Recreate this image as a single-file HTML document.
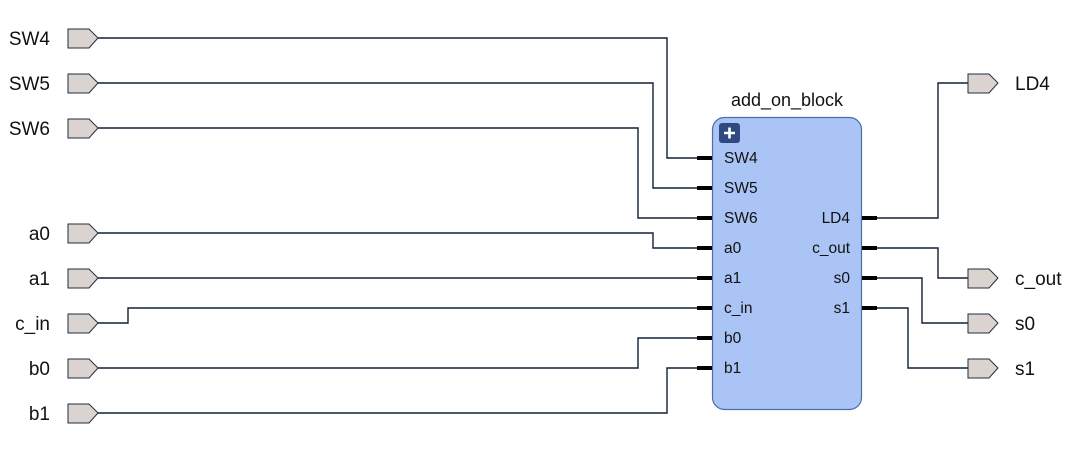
<!DOCTYPE html>
<html><head><meta charset="utf-8"><style>
html,body{margin:0;padding:0;background:#fff;}
svg{display:block;}
text{font-family:"Liberation Sans",sans-serif;fill:#111;}
</style></head><body>
<svg width="1080" height="473" viewBox="0 0 1080 473" xmlns="http://www.w3.org/2000/svg">
<defs>
<polygon id="port" points="0,-10 21,-10 30,-1 21,9 0,9" fill="#dbd3cf" stroke="#1f2d3d" stroke-width="1"/>
</defs>
<g fill="none" stroke="#102035" stroke-width="1.4">
<polyline points="98,38 667,38 667,158 698,158"/>
<polyline points="98,83 653,83 653,188 698,188"/>
<polyline points="98,128 638,128 638,218 698,218"/>
<polyline points="98,233 653,233 653,248 698,248"/>
<polyline points="98,278 698,278"/>
<polyline points="98,323 128,323 128,308 698,308"/>
<polyline points="98,368 638,368 638,338 698,338"/>
<polyline points="98,413 667,413 667,368 698,368"/>
<polyline points="876,218 938,218 938,83 968,83"/>
<polyline points="876,248 938,248 938,278 968,278"/>
<polyline points="876,278 922,278 922,323 968,323"/>
<polyline points="876,308 908,308 908,368 968,368"/>
</g>
<g>
<use href="#port" x="68" y="39"/>
<use href="#port" x="68" y="84"/>
<use href="#port" x="68" y="129"/>
<use href="#port" x="68" y="234"/>
<use href="#port" x="68" y="279"/>
<use href="#port" x="68" y="324"/>
<use href="#port" x="68" y="369"/>
<use href="#port" x="68" y="414"/>
<use href="#port" x="968" y="84"/>
<use href="#port" x="968" y="279"/>
<use href="#port" x="968" y="324"/>
<use href="#port" x="968" y="369"/>
</g>
<g font-size="19" text-anchor="end">
<text x="50" y="45">SW4</text>
<text x="50" y="90">SW5</text>
<text x="50" y="135">SW6</text>
<text x="50" y="240">a0</text>
<text x="50" y="285">a1</text>
<text x="50" y="330">c_in</text>
<text x="50" y="375">b0</text>
<text x="50" y="420">b1</text>
</g>
<g font-size="19">
<text x="1015" y="90">LD4</text>
<text x="1015" y="285">c_out</text>
<text x="1015" y="330">s0</text>
<text x="1015" y="375">s1</text>
</g>
<rect x="712.5" y="117.5" width="149" height="292" rx="12" fill="#aac4f5" stroke="#4a6fb0" stroke-width="1.2"/>
<rect x="719" y="123" width="21" height="20" rx="3" fill="#2e4a80"/>
<path d="M729.5,127.5v11M724,133h11" stroke="#fff" stroke-width="2.6"/>
<text x="787" y="106" font-size="18" text-anchor="middle">add_on_block</text>
<g stroke="#000" stroke-width="4">
<path d="M697,158h15M697,188h15M697,218h15M697,248h15M697,278h15M697,308h15M697,338h15M697,368h15"/>
<path d="M862,218h15M862,248h15M862,278h15M862,308h15"/>
</g>
<g font-size="15.5">
<text x="724" y="163">SW4</text>
<text x="724" y="193">SW5</text>
<text x="724" y="223">SW6</text>
<text x="724" y="253">a0</text>
<text x="724" y="283">a1</text>
<text x="724" y="313">c_in</text>
<text x="724" y="343">b0</text>
<text x="724" y="373">b1</text>
</g>
<g font-size="15.5" text-anchor="end">
<text x="850" y="223">LD4</text>
<text x="850" y="253">c_out</text>
<text x="850" y="283">s0</text>
<text x="850" y="313">s1</text>
</g>
</svg>
</body></html>
